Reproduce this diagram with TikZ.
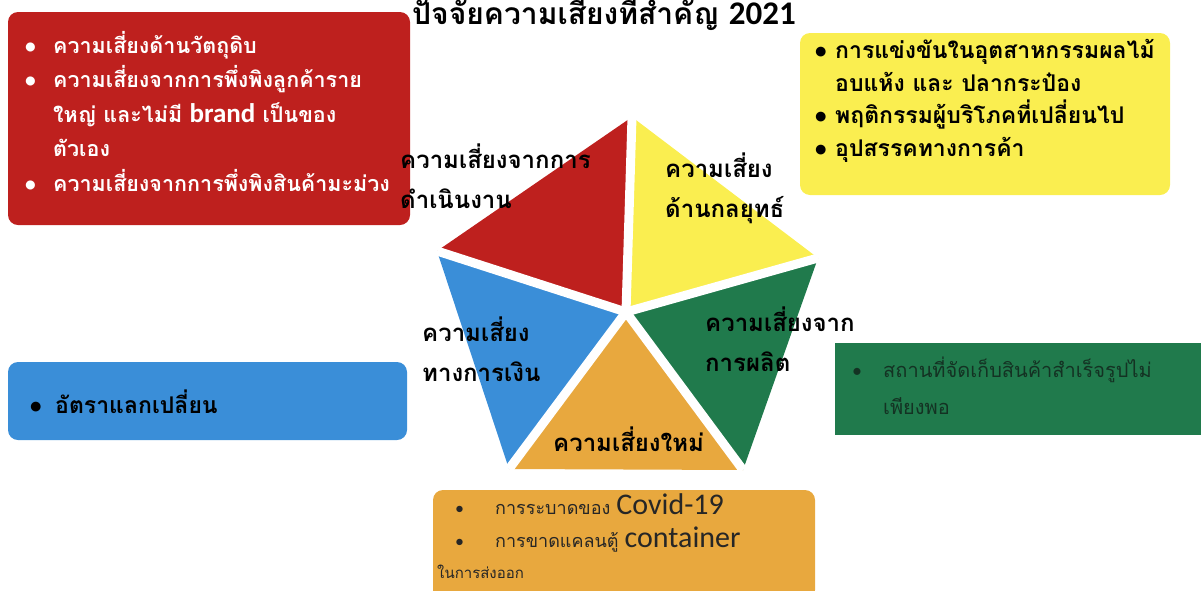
\documentclass[tikz,border=0pt]{standalone}
\usepackage{fontspec}
\newfontfamily\thai[Script=Thai]{Loma}
\newfontfamily\lat{Carlito}
\definecolor{rred}{RGB}{190,32,30}
\definecolor{ryel}{RGB}{250,238,80}
\definecolor{rgrn}{RGB}{32,122,76}
\definecolor{rblu}{RGB}{58,142,216}
\definecolor{rorg}{RGB}{232,168,62}
\definecolor{rtxtg}{RGB}{20,50,35}
\tikzset{
  box/.style={rounded corners=10pt},
  boxtext/.style={anchor=base west, inner sep=0pt, align=left},
  tlabel/.style={anchor=base west, inner sep=0pt, align=left, font=\thai\bfseries\fontsize{24}{40}\selectfont, text=black},
}
\newcommand{\bul}[1]{\makebox[#1][l]{\lat\textbullet}}
\begin{document}
\begin{tikzpicture}[x=1pt,y=-1pt]
\useasboundingbox (0,0) rectangle (1201,590);
% boxes
\fill[rred,box] (8,12) rectangle (410,225);
\fill[ryel,box] (800,33) rectangle (1170,195);
\fill[rblu,box] (8,362) rectangle (407,440);
\fill[rgrn] (835,343) rectangle (1201,435);
\fill[rorg,box] (433,490) rectangle (815,600);
% pentagon
\coordinate (C) at (626,312);
\coordinate (T) at (632,117);
\coordinate (R) at (818,258);
\coordinate (BR) at (743,470);
\coordinate (BL) at (509,469);
\coordinate (L) at (437,251);
\fill[rred] (C) -- (T) -- (L) -- cycle;
\fill[ryel] (C) -- (T) -- (R) -- cycle;
\fill[rgrn] (C) -- (R) -- (BR) -- cycle;
\fill[rorg] (C) -- (BR) -- (BL) -- cycle;
\fill[rblu] (C) -- (BL) -- (L) -- cycle;
\foreach \v in {T,R,BR,BL,L} \draw[white,line width=9pt] (C) -- (\v);
\fill[white] (C) circle (6pt);
% title
\node[anchor=base west, inner sep=0pt] (title) at (412,24) {\thai\bfseries\fontsize{30}{34}\selectfont ปัจจัยความเสี่ยงที่สำคัญ {\lat\fontsize{33}{34}\selectfont 2021}};
% red box text (last baseline given)
\node[boxtext, text=white, font=\thai\bfseries\fontsize{21.5}{34.5}\selectfont] (redtext) at (25,191) {%
\bul{28pt}ความเสี่ยงด้านวัตถุดิบ\\
\bul{28pt}ความเสี่ยงจากการพึ่งพิงลูกค้าราย\\
\hspace*{28pt}ใหญ่ และไม่มี {\lat\bfseries\fontsize{27}{30}\selectfont brand} เป็นของ\\
\hspace*{28pt}ตัวเอง\\
\bul{28pt}ความเสี่ยงจากการพึ่งพิงสินค้ามะม่วง};
% yellow box text
\node[boxtext, text=black, font=\thai\bfseries\fontsize{23}{32.5}\selectfont] (yeltext) at (815,156) {%
\bul{20pt}การแข่งขันในอุตสาหกรรมผลไม้\\
\hspace*{20pt}อบแห้ง และ ปลากระป๋อง\\
\bul{20pt}พฤติกรรมผู้บริโภคที่เปลี่ยนไป\\
\bul{20pt}อุปสรรคทางการค้า};
% blue box text
\node[boxtext, text=black, font=\thai\bfseries\fontsize{23}{30}\selectfont] (blutext) at (30,413) {\bul{25pt}อัตราแลกเปลี่ยน};
% green box text
\node[boxtext, text=rtxtg, font=\thai\fontsize{20}{37}\selectfont] (grntext) at (852,414) {%
\bul{31pt}สถานที่จัดเก็บสินค้าสำเร็จรูปไม่\\
\hspace*{31pt}เพียงพอ};
% orange box text
\node[boxtext, text=black!85, font=\thai\fontsize{18}{33}\selectfont] (orgtext) at (455,547) {%
\bul{40pt}การระบาดของ {\lat\fontsize{30}{30}\selectfont Covid-19}\\
\bul{40pt}การขาดแคลนตู้ {\lat\fontsize{30}{30}\selectfont container}};
\node[boxtext, text=black!85, font=\thai\fontsize{15}{33}\selectfont] (orgtext2) at (437,578) {ในการส่งออก};
% triangle labels (last baseline given)
\node[tlabel] (lred) at (400,208) {ความเสี่ยงจากการ\\ดำเนินงาน};
\node[tlabel] (lyel) at (665,217) {ความเสี่ยง\\ด้านกลยุทธ์};
\node[tlabel] (lblu) at (422,381) {ความเสี่ยง\\ทางการเงิน};
\node[tlabel] (lgrn) at (705,371) {ความเสี่ยงจาก\\การผลิต};
\node[tlabel] (lorg) at (553,451) {ความเสี่ยงใหม่};
\end{tikzpicture}
\end{document}
